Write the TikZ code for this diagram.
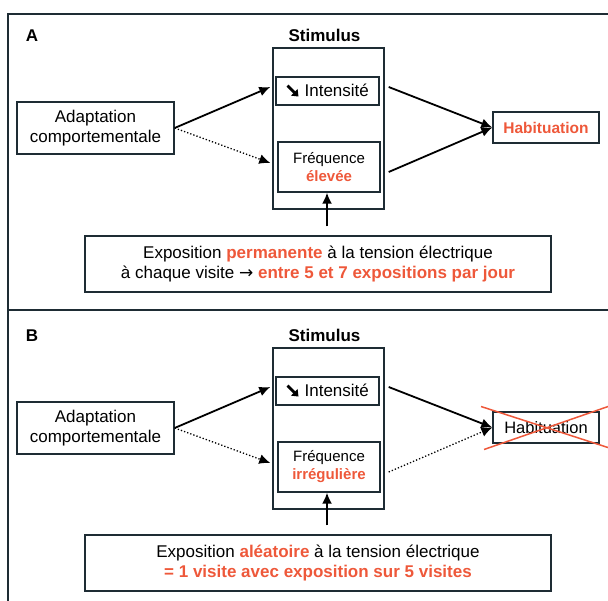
\documentclass[tikz,border=0pt]{standalone}
\usepackage{xcolor}
\usepackage{fontspec}
\setmainfont{Liberation Sans}
\newfontfamily\symfont{DejaVu Sans}
\usetikzlibrary{arrows.meta,positioning,calc}
\definecolor{hlred}{RGB}{238,88,58}
\definecolor{boxline}{RGB}{30,44,52}
\newcommand{\hl}[1]{\textcolor{hlred}{\bfseries #1}}
\newcommand{\dnarrow}{\tikz[baseline=0pt] \draw [line width=2.8pt, -{Triangle[length=6pt,width=9pt]}] (0pt,11pt) -- (11pt,0pt);}
\newcommand{\toarrow}{{\symfont →}}

\begin{document}
\begin{tikzpicture}[
				x = 1pt, y = -1pt,
				every node/.style = {font=\fontsize{17}{20}\selectfont},
				box/.style = {draw=boxline, line width=1.4pt, inner sep=0pt, align=center},
				title/.style = {font=\fontsize{17}{20}\selectfont\bfseries, inner sep=0pt},
				link/.style = {line width=1.8pt, -{Latex[length=11pt,width=10pt]}},
				weak/.style = {line width=1.3pt, dotted, -{Latex[length=11pt,width=10pt]}},
				cross/.style = {hlred, line width=1.5pt}
				]
				\useasboundingbox (0,0) rectangle (608,601);
				\clip (0,0) rectangle (608,601);
				\draw [boxline, line width=1.4pt] (620,14) -- (8,14) -- (8,620);
				\draw [boxline, line width=1.4pt] (8,310) -- (620,310);

				\node [title] (labA) at (32,36) {A};
				\node [box, minimum width=111, minimum height=161] (stimA) at (328.5,128.5) {};
				\node [title, above=5pt of stimA, xshift=-4pt] (stimAt) {Stimulus};
				\node [box, minimum width=103, minimum height=28] (intA) at (327.5,91) {\dnarrow\ Intensité};
				\node [box, minimum width=102, minimum height=50, font=\fontsize{15}{18}\selectfont] (freqA) at (329,167) {Fréquence\\\hl{élevée}};
				\node [box, minimum width=157, minimum height=52] (adaptA) at (95.5,128) {Adaptation\\comportementale};
				\node [box, minimum width=106, minimum height=31, font=\fontsize{15.5}{18}\selectfont] (habA) at (546,127.5) {\hl{Habituation}};
				\node [box, minimum width=466, minimum height=56] (expoA) at (318,264) {Exposition \hl{permanente} à la tension électrique\\à chaque visite \toarrow\ \hl{entre 5 et 7 expositions par jour}};

				\draw [link] (adaptA.east) -- ($(stimA.west |- intA.west)+(-2,-4)$);
				\draw [weak] (adaptA.east) -- ($(stimA.west |- freqA.west)+(-2,-4)$);
				\draw [link] ($(stimA.east |- intA.east)+(4,-4)$) -- (habA.west);
				\draw [link] ($(stimA.east |- freqA.east)+(4,5)$) -- (habA.west);
				\draw [link] ($(freqA.south |- expoA.north)+(-2,-9)$) -- ($(freqA.south)+(-2,0)$);

				\node [title] (labB) at (32,336) {B};
				\node [box, minimum width=111, minimum height=161] (stimB) at (328.5,428.5) {};
				\node [title, above=5pt of stimB, xshift=-4pt] (stimBt) {Stimulus};
				\node [box, minimum width=103, minimum height=28] (intB) at (327.5,391) {\dnarrow\ Intensité};
				\node [box, minimum width=102, minimum height=50, font=\fontsize{15}{18}\selectfont] (freqB) at (329,467) {Fréquence\\\hl{irrégulière}};
				\node [box, minimum width=157, minimum height=52] (adaptB) at (95.5,428) {Adaptation\\comportementale};
				\node [box, minimum width=106, minimum height=31, font=\fontsize{16.5}{18}\selectfont] (habB) at (546,427.5) {Habituation};
				\node [box, minimum width=466, minimum height=56] (expoB) at (318,563) {Exposition \hl{aléatoire} à la tension électrique\\\hl{= 1 visite avec exposition sur 5 visites}};

				\draw [link] (adaptB.east) -- ($(stimB.west |- intB.west)+(-2,-4)$);
				\draw [weak] (adaptB.east) -- ($(stimB.west |- freqB.west)+(-2,-4)$);
				\draw [link] ($(stimB.east |- intB.east)+(4,-4)$) -- (habB.west);
				\draw [weak] ($(stimB.east |- freqB.east)+(4,5)$) -- (habB.west);
				\draw [link] ($(freqB.south |- expoB.north)+(-2,-9)$) -- ($(freqB.south)+(-2,0)$);
				\draw [cross] ($(habB.center)+(-65,-21)$) -- ($(habB.center)+(65,21)$);
				\draw [cross] ($(habB.center)+(-62,22)$) -- ($(habB.center)+(65,-22)$);
			\end{tikzpicture}
\end{document}
